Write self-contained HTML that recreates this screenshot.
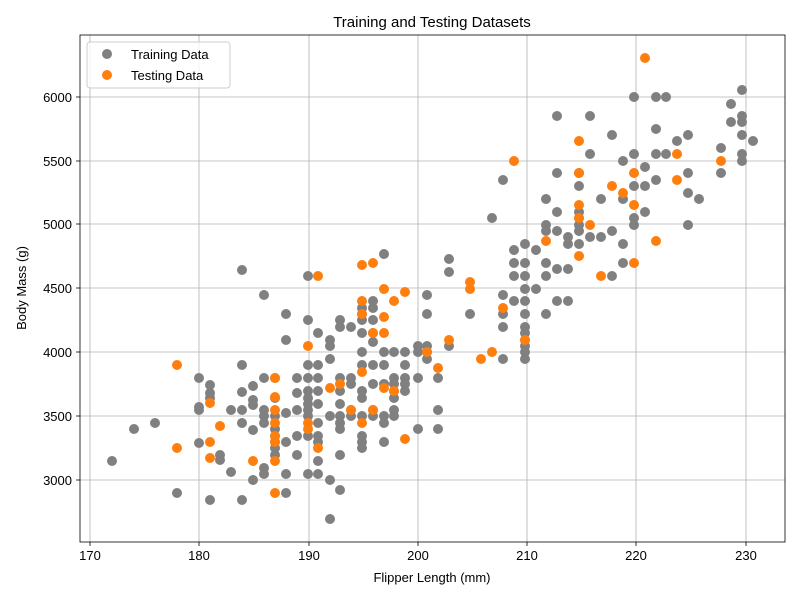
<!DOCTYPE html>
<html><head><meta charset="utf-8"><style>body{margin:0;background:#fff}svg{display:block;font-family:"Liberation Sans","DejaVu Sans",sans-serif}</style></head><body>
<svg width="800" height="600" xmlns="http://www.w3.org/2000/svg">
<rect width="800" height="600" fill="#fff"/>
<g stroke="#b0b0b0" stroke-width="0.8">
<line x1="90" y1="35" x2="90" y2="542"/><line x1="199" y1="35" x2="199" y2="542"/><line x1="309" y1="35" x2="309" y2="542"/><line x1="418" y1="35" x2="418" y2="542"/><line x1="527" y1="35" x2="527" y2="542"/><line x1="636" y1="35" x2="636" y2="542"/><line x1="746" y1="35" x2="746" y2="542"/>
<line x1="80" y1="480" x2="785" y2="480"/><line x1="80" y1="416" x2="785" y2="416"/><line x1="80" y1="352" x2="785" y2="352"/><line x1="80" y1="288" x2="785" y2="288"/><line x1="80" y1="224" x2="785" y2="224"/><line x1="80" y1="161" x2="785" y2="161"/><line x1="80" y1="97" x2="785" y2="97"/>
</g>
<g fill="#808080">
<circle cx="112" cy="461" r="5"/><circle cx="134" cy="429" r="5"/><circle cx="155" cy="423" r="5"/><circle cx="177" cy="493" r="5"/><circle cx="199" cy="443" r="5"/><circle cx="199" cy="378" r="5"/><circle cx="199" cy="407" r="5"/><circle cx="199" cy="410" r="5"/><circle cx="210" cy="385" r="5"/><circle cx="210" cy="393" r="5"/><circle cx="210" cy="398" r="5"/><circle cx="210" cy="500" r="5"/><circle cx="220" cy="455" r="5"/><circle cx="220" cy="460" r="5"/><circle cx="231" cy="410" r="5"/><circle cx="231" cy="472" r="5"/><circle cx="242" cy="270" r="5"/><circle cx="242" cy="365" r="5"/><circle cx="242" cy="392" r="5"/><circle cx="242" cy="410" r="5"/><circle cx="242" cy="423" r="5"/><circle cx="242" cy="500" r="5"/><circle cx="253" cy="386" r="5"/><circle cx="253" cy="400" r="5"/><circle cx="253" cy="405" r="5"/><circle cx="253" cy="430" r="5"/><circle cx="253" cy="480" r="5"/><circle cx="264" cy="295" r="5"/><circle cx="264" cy="378" r="5"/><circle cx="264" cy="410" r="5"/><circle cx="264" cy="416" r="5"/><circle cx="264" cy="423" r="5"/><circle cx="264" cy="468" r="5"/><circle cx="264" cy="474" r="5"/><circle cx="275" cy="378" r="5"/><circle cx="275" cy="398" r="5"/><circle cx="275" cy="416" r="5"/><circle cx="275" cy="429" r="5"/><circle cx="275" cy="436" r="5"/><circle cx="275" cy="442" r="5"/><circle cx="275" cy="448" r="5"/><circle cx="275" cy="455" r="5"/><circle cx="286" cy="314" r="5"/><circle cx="286" cy="340" r="5"/><circle cx="286" cy="413" r="5"/><circle cx="286" cy="442" r="5"/><circle cx="286" cy="474" r="5"/><circle cx="286" cy="493" r="5"/><circle cx="297" cy="378" r="5"/><circle cx="297" cy="410" r="5"/><circle cx="297" cy="436" r="5"/><circle cx="297" cy="455" r="5"/><circle cx="297" cy="393" r="5"/><circle cx="308" cy="276" r="5"/><circle cx="308" cy="320" r="5"/><circle cx="308" cy="365" r="5"/><circle cx="308" cy="378" r="5"/><circle cx="308" cy="391" r="5"/><circle cx="308" cy="398" r="5"/><circle cx="308" cy="404" r="5"/><circle cx="308" cy="410" r="5"/><circle cx="308" cy="416" r="5"/><circle cx="308" cy="436" r="5"/><circle cx="308" cy="474" r="5"/><circle cx="318" cy="333" r="5"/><circle cx="318" cy="365" r="5"/><circle cx="318" cy="378" r="5"/><circle cx="318" cy="391" r="5"/><circle cx="318" cy="404" r="5"/><circle cx="318" cy="423" r="5"/><circle cx="318" cy="436" r="5"/><circle cx="318" cy="442" r="5"/><circle cx="318" cy="461" r="5"/><circle cx="318" cy="474" r="5"/><circle cx="330" cy="340" r="5"/><circle cx="330" cy="346" r="5"/><circle cx="330" cy="359" r="5"/><circle cx="330" cy="416" r="5"/><circle cx="330" cy="480" r="5"/><circle cx="330" cy="519" r="5"/><circle cx="340" cy="320" r="5"/><circle cx="340" cy="327" r="5"/><circle cx="340" cy="378" r="5"/><circle cx="340" cy="391" r="5"/><circle cx="340" cy="404" r="5"/><circle cx="340" cy="416" r="5"/><circle cx="340" cy="423" r="5"/><circle cx="340" cy="429" r="5"/><circle cx="340" cy="455" r="5"/><circle cx="340" cy="490" r="5"/><circle cx="351" cy="327" r="5"/><circle cx="351" cy="378" r="5"/><circle cx="351" cy="384" r="5"/><circle cx="351" cy="410" r="5"/><circle cx="351" cy="416" r="5"/><circle cx="362" cy="308" r="5"/><circle cx="362" cy="314" r="5"/><circle cx="362" cy="320" r="5"/><circle cx="362" cy="333" r="5"/><circle cx="362" cy="352" r="5"/><circle cx="362" cy="365" r="5"/><circle cx="362" cy="391" r="5"/><circle cx="362" cy="398" r="5"/><circle cx="362" cy="416" r="5"/><circle cx="362" cy="436" r="5"/><circle cx="362" cy="442" r="5"/><circle cx="362" cy="448" r="5"/><circle cx="373" cy="301" r="5"/><circle cx="373" cy="308" r="5"/><circle cx="373" cy="320" r="5"/><circle cx="373" cy="333" r="5"/><circle cx="373" cy="342" r="5"/><circle cx="373" cy="365" r="5"/><circle cx="373" cy="384" r="5"/><circle cx="373" cy="410" r="5"/><circle cx="373" cy="416" r="5"/><circle cx="384" cy="352" r="5"/><circle cx="384" cy="365" r="5"/><circle cx="384" cy="384" r="5"/><circle cx="384" cy="416" r="5"/><circle cx="384" cy="423" r="5"/><circle cx="384" cy="442" r="5"/><circle cx="384" cy="254" r="5"/><circle cx="394" cy="352" r="5"/><circle cx="394" cy="378" r="5"/><circle cx="394" cy="384" r="5"/><circle cx="394" cy="391" r="5"/><circle cx="394" cy="398" r="5"/><circle cx="394" cy="410" r="5"/><circle cx="394" cy="416" r="5"/><circle cx="405" cy="352" r="5"/><circle cx="405" cy="365" r="5"/><circle cx="405" cy="378" r="5"/><circle cx="405" cy="384" r="5"/><circle cx="405" cy="391" r="5"/><circle cx="418" cy="346" r="5"/><circle cx="418" cy="352" r="5"/><circle cx="418" cy="378" r="5"/><circle cx="418" cy="429" r="5"/><circle cx="427" cy="295" r="5"/><circle cx="427" cy="314" r="5"/><circle cx="427" cy="346" r="5"/><circle cx="427" cy="352" r="5"/><circle cx="427" cy="359" r="5"/><circle cx="438" cy="378" r="5"/><circle cx="438" cy="410" r="5"/><circle cx="438" cy="429" r="5"/><circle cx="449" cy="259" r="5"/><circle cx="449" cy="272" r="5"/><circle cx="449" cy="346" r="5"/><circle cx="470" cy="314" r="5"/><circle cx="492" cy="218" r="5"/><circle cx="503" cy="180" r="5"/><circle cx="503" cy="295" r="5"/><circle cx="503" cy="314" r="5"/><circle cx="503" cy="327" r="5"/><circle cx="503" cy="359" r="5"/><circle cx="514" cy="250" r="5"/><circle cx="514" cy="263" r="5"/><circle cx="514" cy="276" r="5"/><circle cx="514" cy="301" r="5"/><circle cx="525" cy="244" r="5"/><circle cx="525" cy="263" r="5"/><circle cx="525" cy="276" r="5"/><circle cx="525" cy="289" r="5"/><circle cx="525" cy="301" r="5"/><circle cx="525" cy="314" r="5"/><circle cx="525" cy="327" r="5"/><circle cx="525" cy="333" r="5"/><circle cx="525" cy="340" r="5"/><circle cx="525" cy="346" r="5"/><circle cx="525" cy="352" r="5"/><circle cx="525" cy="359" r="5"/><circle cx="536" cy="250" r="5"/><circle cx="536" cy="289" r="5"/><circle cx="546" cy="199" r="5"/><circle cx="546" cy="225" r="5"/><circle cx="546" cy="231" r="5"/><circle cx="546" cy="263" r="5"/><circle cx="546" cy="276" r="5"/><circle cx="546" cy="314" r="5"/><circle cx="557" cy="116" r="5"/><circle cx="557" cy="173" r="5"/><circle cx="557" cy="212" r="5"/><circle cx="557" cy="231" r="5"/><circle cx="557" cy="269" r="5"/><circle cx="557" cy="301" r="5"/><circle cx="568" cy="237" r="5"/><circle cx="568" cy="244" r="5"/><circle cx="568" cy="269" r="5"/><circle cx="568" cy="301" r="5"/><circle cx="579" cy="173" r="5"/><circle cx="579" cy="186" r="5"/><circle cx="579" cy="212" r="5"/><circle cx="579" cy="218" r="5"/><circle cx="579" cy="225" r="5"/><circle cx="579" cy="231" r="5"/><circle cx="579" cy="244" r="5"/><circle cx="590" cy="116" r="5"/><circle cx="590" cy="154" r="5"/><circle cx="590" cy="237" r="5"/><circle cx="601" cy="199" r="5"/><circle cx="601" cy="237" r="5"/><circle cx="612" cy="135" r="5"/><circle cx="612" cy="231" r="5"/><circle cx="612" cy="276" r="5"/><circle cx="623" cy="161" r="5"/><circle cx="623" cy="199" r="5"/><circle cx="623" cy="244" r="5"/><circle cx="623" cy="263" r="5"/><circle cx="634" cy="97" r="5"/><circle cx="634" cy="154" r="5"/><circle cx="634" cy="186" r="5"/><circle cx="634" cy="218" r="5"/><circle cx="634" cy="225" r="5"/><circle cx="645" cy="167" r="5"/><circle cx="645" cy="212" r="5"/><circle cx="645" cy="186" r="5"/><circle cx="656" cy="97" r="5"/><circle cx="656" cy="129" r="5"/><circle cx="656" cy="154" r="5"/><circle cx="656" cy="180" r="5"/><circle cx="666" cy="97" r="5"/><circle cx="666" cy="154" r="5"/><circle cx="677" cy="141" r="5"/><circle cx="688" cy="135" r="5"/><circle cx="688" cy="173" r="5"/><circle cx="688" cy="193" r="5"/><circle cx="688" cy="225" r="5"/><circle cx="699" cy="199" r="5"/><circle cx="721" cy="148" r="5"/><circle cx="721" cy="173" r="5"/><circle cx="731" cy="122" r="5"/><circle cx="731" cy="104" r="5"/><circle cx="742" cy="90" r="5"/><circle cx="742" cy="116" r="5"/><circle cx="742" cy="122" r="5"/><circle cx="742" cy="135" r="5"/><circle cx="742" cy="154" r="5"/><circle cx="742" cy="161" r="5"/><circle cx="753" cy="141" r="5"/>
</g>
<g fill="#ff7f0e">
<circle cx="177" cy="365" r="5"/><circle cx="177" cy="448" r="5"/><circle cx="210" cy="403" r="5"/><circle cx="210" cy="442" r="5"/><circle cx="210" cy="458" r="5"/><circle cx="220" cy="426" r="5"/><circle cx="253" cy="461" r="5"/><circle cx="275" cy="378" r="5"/><circle cx="275" cy="397" r="5"/><circle cx="275" cy="410" r="5"/><circle cx="275" cy="423" r="5"/><circle cx="275" cy="436" r="5"/><circle cx="275" cy="442" r="5"/><circle cx="275" cy="461" r="5"/><circle cx="275" cy="493" r="5"/><circle cx="308" cy="346" r="5"/><circle cx="308" cy="423" r="5"/><circle cx="308" cy="429" r="5"/><circle cx="318" cy="276" r="5"/><circle cx="318" cy="448" r="5"/><circle cx="330" cy="388" r="5"/><circle cx="340" cy="384" r="5"/><circle cx="351" cy="410" r="5"/><circle cx="362" cy="265" r="5"/><circle cx="362" cy="301" r="5"/><circle cx="362" cy="314" r="5"/><circle cx="362" cy="372" r="5"/><circle cx="362" cy="423" r="5"/><circle cx="373" cy="263" r="5"/><circle cx="373" cy="333" r="5"/><circle cx="373" cy="410" r="5"/><circle cx="384" cy="289" r="5"/><circle cx="384" cy="317" r="5"/><circle cx="384" cy="333" r="5"/><circle cx="384" cy="388" r="5"/><circle cx="394" cy="301" r="5"/><circle cx="394" cy="391" r="5"/><circle cx="405" cy="292" r="5"/><circle cx="405" cy="439" r="5"/><circle cx="427" cy="352" r="5"/><circle cx="438" cy="368" r="5"/><circle cx="449" cy="340" r="5"/><circle cx="470" cy="282" r="5"/><circle cx="470" cy="289" r="5"/><circle cx="481" cy="359" r="5"/><circle cx="492" cy="352" r="5"/><circle cx="514" cy="161" r="5"/><circle cx="503" cy="308" r="5"/><circle cx="525" cy="340" r="5"/><circle cx="546" cy="241" r="5"/><circle cx="579" cy="141" r="5"/><circle cx="579" cy="173" r="5"/><circle cx="579" cy="205" r="5"/><circle cx="579" cy="218" r="5"/><circle cx="579" cy="256" r="5"/><circle cx="590" cy="225" r="5"/><circle cx="601" cy="276" r="5"/><circle cx="612" cy="186" r="5"/><circle cx="623" cy="193" r="5"/><circle cx="634" cy="173" r="5"/><circle cx="634" cy="205" r="5"/><circle cx="634" cy="263" r="5"/><circle cx="645" cy="58" r="5"/><circle cx="656" cy="241" r="5"/><circle cx="677" cy="154" r="5"/><circle cx="677" cy="180" r="5"/><circle cx="721" cy="161" r="5"/>
</g>
<rect x="80" y="35" width="705" height="507" fill="none" stroke="#000" stroke-width="0.8"/>
<g stroke="#000" stroke-width="0.8">
<line x1="90" y1="542" x2="90" y2="546"/><line x1="199" y1="542" x2="199" y2="546"/><line x1="309" y1="542" x2="309" y2="546"/><line x1="418" y1="542" x2="418" y2="546"/><line x1="527" y1="542" x2="527" y2="546"/><line x1="636" y1="542" x2="636" y2="546"/><line x1="746" y1="542" x2="746" y2="546"/>
<line x1="76" y1="480" x2="80" y2="480"/><line x1="76" y1="416" x2="80" y2="416"/><line x1="76" y1="352" x2="80" y2="352"/><line x1="76" y1="288" x2="80" y2="288"/><line x1="76" y1="224" x2="80" y2="224"/><line x1="76" y1="161" x2="80" y2="161"/><line x1="76" y1="97" x2="80" y2="97"/>
</g>
<g font-size="13" fill="#000" text-anchor="middle">
<text x="90" y="560">170</text><text x="199" y="560">180</text><text x="309" y="560">190</text><text x="418" y="560">200</text><text x="527" y="560">210</text><text x="636" y="560">220</text><text x="746" y="560">230</text>
</g>
<g font-size="13" fill="#000" text-anchor="end">
<text x="72" y="485">3000</text><text x="72" y="421">3500</text><text x="72" y="357">4000</text><text x="72" y="293">4500</text><text x="72" y="229">5000</text><text x="72" y="166">5500</text><text x="72" y="102">6000</text>
</g>
<text x="432" y="582" font-size="13" text-anchor="middle">Flipper Length (mm)</text>
<text transform="translate(26,288) rotate(-90)" font-size="13" text-anchor="middle">Body Mass (g)</text>
<text x="432" y="27" font-size="15" text-anchor="middle">Training and Testing Datasets</text>
<rect x="87" y="42" width="143" height="46" rx="3" fill="#fff" fill-opacity="0.8" stroke="#ccc"/>
<circle cx="107" cy="54" r="5" fill="#808080"/><text x="131" y="59" font-size="13">Training Data</text>
<circle cx="107" cy="75" r="5" fill="#ff7f0e"/><text x="131" y="80" font-size="13">Testing Data</text>
</svg>
</body></html>
